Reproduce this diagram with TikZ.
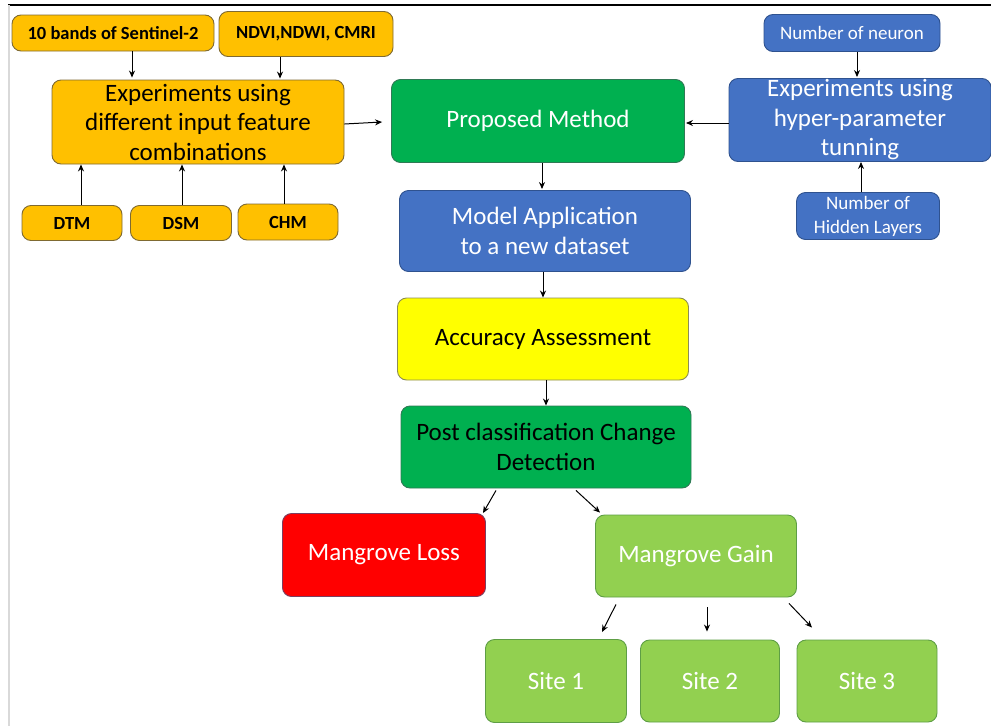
\documentclass[tikz,border=0pt]{standalone}
\usepackage{fontspec}
\setmainfont{Carlito}
\usetikzlibrary{positioning,arrows.meta}

\definecolor{featorange}{HTML}{FFC000}
\definecolor{featline}{HTML}{7F6A32}
\definecolor{tuneblue}{HTML}{4472C4}
\definecolor{tuneline}{HTML}{2F528F}
\definecolor{darkgreen}{HTML}{00B050}
\definecolor{darkgreenline}{HTML}{2F7A55}
\definecolor{lightgreen}{HTML}{92D050}
\definecolor{lightgreenline}{HTML}{5E9E45}
\definecolor{accyellow}{HTML}{FFFF00}
\definecolor{accline}{HTML}{8C8C55}
\definecolor{lossred}{HTML}{FF0000}
\definecolor{lossline}{HTML}{7A3F60}

\tikzset{
  box/.style={rounded corners=9pt, draw, line width=0.9pt, align=center, inner sep=0pt},
  feat/.style={box, fill=featorange, draw=featline, text=black},
  tune/.style={box, fill=tuneblue, draw=tuneline, text=white},
  dgreen/.style={box, fill=darkgreen, draw=darkgreenline},
  lgreen/.style={box, fill=lightgreen, draw=lightgreenline, text=white},
  arr/.style={-{Stealth[length=7pt,width=6pt]}, line width=1pt},
  small/.style={font=\fontsize{19}{24}\selectfont},
  smallbf/.style={font=\fontsize{18.5}{24}\selectfont\bfseries},
  large/.style={font=\fontsize{25}{29.5}\selectfont},
}

\begin{document}
\begin{tikzpicture}[x=1pt,y=-1pt]
  \useasboundingbox (0,0) rectangle (991,726);
  % frame of the screenshot
  \draw[line width=1.3pt] (8,5) -- (991,5);
  \draw[black!15, line width=1.5pt] (9,5) -- (9,726);

  % input features
  \node[feat, smallbf, minimum width=202pt, minimum height=36pt] (bands) at (113,33) {10 bands of Sentinel-2};
  \node[feat, smallbf, minimum width=174pt, minimum height=45pt] (ndvi) at (306,34) {NDVI,NDWI, CMRI};
  \node[feat, large, minimum width=292pt, minimum height=84pt] (exp) at (198,122) {Experiments using\\different input feature\\combinations};
  \node[feat, smallbf, minimum width=100pt, minimum height=35pt] (dtm) at (72,223) {DTM};
  \node[feat, smallbf, minimum width=101pt, minimum height=35pt] (dsm) at (181,223) {DSM};
  \node[feat, smallbf, minimum width=100pt, minimum height=36pt] (chm) at (288,222) {CHM};

  % hyper-parameters
  \node[tune, small, minimum width=176pt, minimum height=37pt] (neuron) at (852,33) {Number of neuron};
  \node[tune, large, minimum width=262pt, minimum height=83pt] (hyper) at (860,120) {Experiments using\\hyper-parameter\\tunning};
  \node[tune, small, minimum width=143pt, minimum height=47pt] (hidden) at (868,216) {Number of\\Hidden Layers};

  % main chain
  \node[dgreen, large, text=white, minimum width=293pt, minimum height=83pt] (prop) at (538,121) {Proposed Method};
  \node[tune, large, minimum width=291pt, minimum height=81pt] (model) at (545,231) {Model Application\\to a new dataset};
  \node[box, fill=accyellow, draw=accline, large, minimum width=291pt, minimum height=82pt] (acc) at (543,339) {Accuracy Assessment};
  \node[dgreen, large, text=black, minimum width=290pt, minimum height=82pt] (post) at (546,447) {Post classification Change\\Detection};
  \node[box, fill=lossred, draw=lossline, text=white, large, minimum width=203pt, minimum height=83pt] (loss) at (384,555) {Mangrove Loss};
  \node[lgreen, large, minimum width=201pt, minimum height=82pt] (gain) at (696,556) {Mangrove Gain};
  \node[lgreen, large, minimum width=141pt, minimum height=83pt] (site1) at (556,681) {Site 1};
  \node[lgreen, large, minimum width=139pt, minimum height=82pt] (site2) at (710,681) {Site 2};
  \node[lgreen, large, minimum width=140pt, minimum height=82pt] (site3) at (867,681) {Site 3};

  % connectors
  \draw[arr] ([xshift=19pt]bands.south) -- ([xshift=19pt,yshift=2pt]bands.south |- exp.north);
  \draw[arr] ([xshift=-26pt]ndvi.south) -- ([xshift=-26pt,yshift=1pt]ndvi.south |- exp.north);
  \draw[arr] ([xshift=9pt]dtm.north) -- ([xshift=9pt]dtm.north |- exp.south);
  \draw[arr] ([xshift=1pt]dsm.north) -- ([xshift=1pt]dsm.north |- exp.south);
  \draw[arr] ([xshift=-4pt]chm.north) -- ([xshift=-4pt]chm.north |- exp.south);
  \draw[arr] ([yshift=-2pt]exp.east) -- ([xshift=-9pt]exp.east -| prop.west);
  \draw[arr] ([xshift=5pt]neuron.south) -- ([xshift=5pt,yshift=1pt]neuron.south |- hyper.north);
  \draw[arr] ([xshift=-7pt]hidden.north) -- ([xshift=-7pt]hidden.north |- hyper.south);
  \draw[arr] ([yshift=-3pt]hyper.west) -- ([yshift=-3pt,xshift=1pt]hyper.west -| prop.east);
  \draw[arr] ([xshift=4pt]prop.south) -- ([xshift=4pt,yshift=1pt]prop.south |- model.north);
  \draw[arr] ([xshift=-2pt]model.south) -- ([xshift=-2pt]model.south |- acc.north);
  \draw[arr] ([xshift=3pt]acc.south) -- ([xshift=3pt]acc.south |- post.north);
  \draw[arr] ([xshift=-50pt,yshift=-2pt]post.south) -- ([xshift=99pt]loss.north);
  \draw[arr] ([xshift=30pt,yshift=-2pt]post.south) -- ([xshift=-96pt,yshift=2pt]gain.north);
  \draw[arr] ([xshift=-80pt,yshift=-7pt]gain.south) -- ([xshift=46pt,yshift=7pt]site1.north);
  \draw[arr] ([xshift=11pt,yshift=-10pt]gain.south) -- ([xshift=-3pt,yshift=8pt]site2.north);
  \draw[arr] ([xshift=93pt,yshift=-6pt]gain.south) -- ([xshift=-55pt,yshift=12pt]site3.north);
\end{tikzpicture}
\end{document}
